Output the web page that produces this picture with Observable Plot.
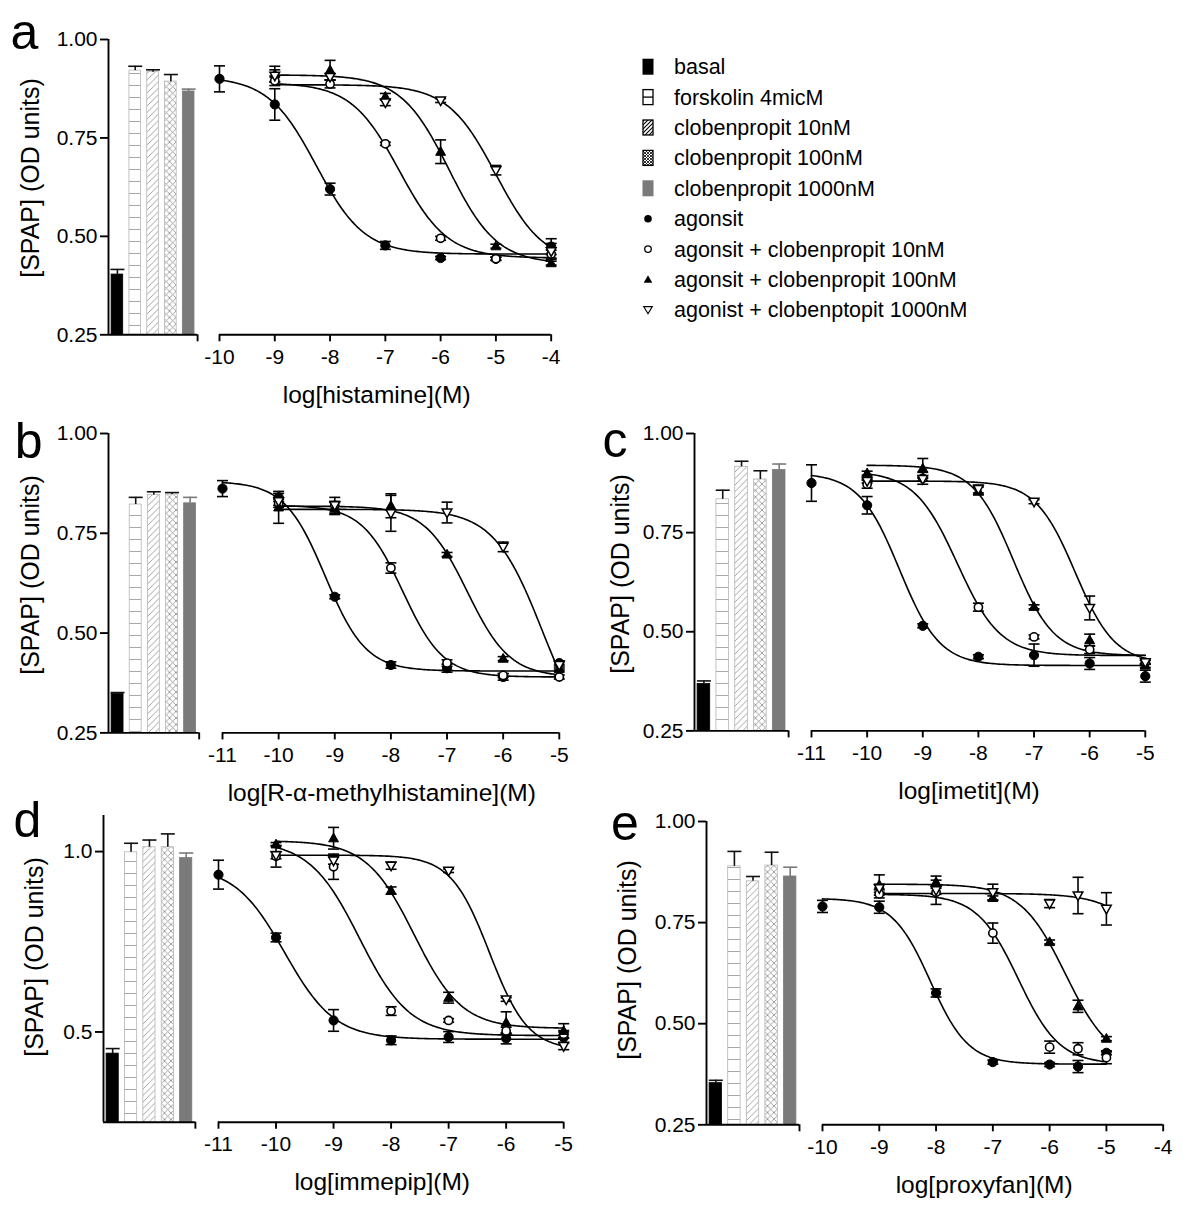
<!DOCTYPE html>
<html><head><meta charset="utf-8">
<script src="https://cdn.jsdelivr.net/npm/d3@7"></script>
<script src="https://cdn.jsdelivr.net/npm/@observablehq/plot@0.6"></script>
<style>
body{margin:0;background:#fff;}
#root{position:relative;width:1200px;height:1225px;overflow:hidden;background:#fff;}
</style></head><body>
<div id="root"></div>
<script>
// ---------------- DATA ----------------
const barLabels = ["basal", "forskolin 4micM", "clobenpropit 10nM", "clobenpropit 100nM", "clobenpropit 1000nM"];
const seriesLabels = ["agonsit", "agonsit + clobenpropit 10nM", "agonsit + clobenpropit 100nM", "agonist + clobenptopit 1000nM"];
const yAxisTitle = "[SPAP] (OD units)";

// panel a: histamine
const aTitle = "log[histamine](M)";
const aDoses = [-10, -9, -8, -7, -6, -5, -4];
const aAgonist     = [0.900, 0.835, 0.620, 0.477, 0.445, 0.443, 0.474];
const aAgonistErr  = [0.033, 0.040, 0.015, 0.010, 0.004, 0.004, 0.020];
const aClob10      = [null, 0.895, 0.887, 0.735, 0.495, 0.443, 0.455];
const aClob10Err   = [null, 0.012, 0.010, 0.004, 0.005, 0.004, 0.010];
const aClob100     = [null, 0.912, 0.922, 0.855, 0.715, 0.475, 0.432];
const aClob100Err  = [null, 0.020, 0.025, 0.008, 0.030, 0.005, 0.005];
const aClob1000    = [null, 0.908, 0.905, 0.840, 0.845, 0.668, 0.462];
const aClob1000Err = [null, 0.015, 0.008, 0.008, 0.005, 0.012, 0.020];
const aBars   = [0.403, 0.921, 0.917, 0.893, 0.868];
const aBarErr = [0.013, 0.011, 0.006, 0.018, 0.006];
const aFitTop    = [0.905, 0.890, 0.910, 0.885];
const aFitBottom = [0.455, 0.445, 0.430, 0.430];
const aFitLogIC50 = [-8.25, -6.75, -5.85, -5.00];
const aFitHill   = [1.0, 1.0, 1.0, 1.0];
const aFitFrom   = [-10, -9, -9, -9];
const aXTicks = [-10, -9, -8, -7, -6, -5, -4];
const aYTicks = [0.25, 0.50, 0.75, 1.00];
const aYDomain = [0.25, 1.00];

// panel b: R-alpha-methylhistamine
const bTitle = "log[R-\u03b1-methylhistamine](M)";
const bDoses = [-11, -10, -9, -8, -7, -6, -5];
const bAgonist     = [0.862, 0.840, 0.591, 0.420, 0.412, 0.390, 0.425];
const bAgonistErr  = [0.020, 0.010, 0.005, 0.008, 0.010, 0.008, 0.005];
const bClob10      = [null, 0.825, 0.820, 0.663, 0.425, 0.394, 0.390];
const bClob10Err   = [null, 0.010, 0.020, 0.013, 0.008, 0.005, 0.005];
const bClob100     = [null, 0.815, 0.812, 0.819, 0.697, 0.436, 0.410];
const bClob100Err  = [null, 0.040, 0.015, 0.030, 0.005, 0.005, 0.005];
const bClob1000    = [null, 0.830, 0.820, 0.800, 0.802, 0.716, 0.420];
const bClob1000Err = [null, 0.010, 0.010, 0.045, 0.026, 0.012, 0.010];
const bBars   = [0.348, 0.822, 0.846, 0.847, 0.825];
const bBarErr = [0.003, 0.018, 0.008, 0.005, 0.015];
const bFitTop    = [0.880, 0.820, 0.818, 0.810];
const bFitBottom = [0.405, 0.390, 0.390, 0.200];
const bFitLogIC50 = [-9.17, -7.79, -6.64, -5.30];
const bFitHill   = [1.2, 1.2, 1.15, 1.0];
const bFitFrom   = [-11, -10, -10, -10];
const bXTicks = [-11, -10, -9, -8, -7, -6, -5];
const bYTicks = [0.25, 0.50, 0.75, 1.00];
const bYDomain = [0.25, 1.00];

// panel c: imetit
const cTitle = "log[imetit](M)";
const cDoses = [-11, -10, -9, -8, -7, -6, -5];
const cAgonist     = [0.875, 0.819, 0.515, 0.437, 0.441, 0.420, 0.388];
const cAgonistErr  = [0.046, 0.022, 0.005, 0.005, 0.028, 0.015, 0.015];
const cClob10      = [null, 0.872, 0.887, 0.562, 0.487, 0.455, 0.423];
const cClob10Err   = [null, 0.010, 0.015, 0.010, 0.005, 0.010, 0.005];
const cClob100     = [null, 0.900, 0.912, 0.855, 0.563, 0.479, 0.415];
const cClob100Err  = [null, 0.005, 0.025, 0.010, 0.005, 0.015, 0.005];
const cClob1000    = [null, 0.880, 0.885, 0.860, 0.828, 0.560, 0.423];
const cClob1000Err = [null, 0.005, 0.005, 0.010, 0.005, 0.030, 0.005];
const cBars   = [0.368, 0.834, 0.916, 0.884, 0.908];
const cBarErr = [0.008, 0.023, 0.014, 0.022, 0.015];
const cFitTop    = [0.900, 0.905, 0.920, 0.880];
const cFitBottom = [0.415, 0.440, 0.440, 0.420];
const cFitLogIC50 = [-9.42, -8.38, -7.37, -6.26];
const cFitHill   = [1.2, 1.13, 1.2, 1.22];
const cFitFrom   = [-11, -10, -10, -10];
const cXTicks = [-11, -10, -9, -8, -7, -6, -5];
const cYTicks = [0.25, 0.50, 0.75, 1.00];
const cYDomain = [0.25, 1.00];

// panel d: immepip
const dTitle = "log[immepip](M)";
const dDoses = [-11, -10, -9, -8, -7, -6, -5];
const dAgonist     = [0.936, 0.762, 0.532, 0.477, 0.486, 0.482, 0.485];
const dAgonistErr  = [0.040, 0.012, 0.030, 0.012, 0.015, 0.015, 0.015];
const dClob10      = [null, 0.987, 0.958, 0.558, 0.532, 0.503, 0.494];
const dClob10Err   = [null, 0.030, 0.035, 0.012, 0.005, 0.010, 0.010];
const dClob100     = [null, 1.020, 1.037, 0.892, 0.595, 0.526, 0.503];
const dClob100Err  = [null, 0.005, 0.030, 0.010, 0.015, 0.030, 0.020];
const dClob1000    = [null, 0.990, 0.975, 0.961, 0.947, 0.590, 0.461];
const dClob1000Err = [null, 0.010, 0.010, 0.010, 0.005, 0.005, 0.010];
const dBars   = [0.440, 0.998, 1.012, 1.012, 0.982];
const dBarErr = [0.014, 0.025, 0.020, 0.037, 0.014];
const dFitTop    = [0.960, 1.030, 1.030, 0.990];
const dFitBottom = [0.480, 0.490, 0.510, 0.450];
const dFitLogIC50 = [-9.85, -8.55, -7.60, -6.29];
const dFitHill   = [1.0, 1.0, 1.05, 1.3];
const dFitFrom   = [-11, -10, -10, -10];
const dXTicks = [-11, -10, -9, -8, -7, -6, -5];
const dYTicks = [0.5, 1.0];
const dYDomain = [0.25, 1.10];

// panel e: proxyfan
const eTitle = "log[proxyfan](M)";
const eDoses = [-10, -9, -8, -7, -6, -5.5, -5];
const eAgonist     = [0.790, 0.788, 0.576, 0.405, 0.399, 0.394, 0.428];
const eAgonistErr  = [0.015, 0.015, 0.010, 0.005, 0.005, 0.015, 0.005];
const eClob10      = [null, 0.821, 0.825, 0.724, 0.442, 0.438, 0.416];
const eClob10Err   = [null, 0.010, 0.030, 0.025, 0.015, 0.015, 0.015];
const eClob100     = [null, 0.843, 0.850, 0.811, 0.702, 0.543, 0.463];
const eClob100Err  = [null, 0.025, 0.015, 0.005, 0.005, 0.015, 0.005];
const eClob1000    = [null, 0.835, 0.830, 0.825, 0.797, 0.817, 0.784];
const eClob1000Err = [null, 0.010, 0.010, 0.020, 0.010, 0.045, 0.040];
const eBars   = [0.353, 0.889, 0.852, 0.891, 0.864];
const eBarErr = [0.007, 0.037, 0.012, 0.033, 0.023];
const eFitTop    = [0.810, 0.820, 0.845, 0.822];
const eFitBottom = [0.400, 0.400, 0.400, 0.400];
const eFitLogIC50 = [-8.10, -6.55, -5.72, -3.90];
const eFitHill   = [1.3, 1.2, 1.1, 1.0];
const eFitFrom   = [-10, -9, -9, -9];
const eXTicks = [-10, -9, -8, -7, -6, -5, -4];
const eYTicks = [0.25, 0.50, 0.75, 1.00];
const eYDomain = [0.25, 1.00];

// ---------------- LAYOUT (pixels) ----------------
const layout = {
  a: {yAxisX:108.0, barEnd:197.1, cx0:219.3, cx1:551.0, yTop:39.0,  yBot:334.3,  letter:[24.5, 49],  ytitle:[30.5, 178]},
  b: {yAxisX:108.3, barEnd:199.0, cx0:221.9, cx1:558.7, yTop:433.3, yBot:732.7,  letter:[28.7, 458], ytitle:[30.5, 575]},
  c: {yAxisX:694.3, barEnd:788.4, cx0:810.6, cx1:1144.4, yTop:433.3, yBot:730.7, letter:[615, 457],  ytitle:[620.5, 574]},
  d: {yAxisX:103.3, barEnd:195.2, cx0:218.1, cx1:563.3, yTop:815.0, yBot:1121.7, letter:[27.5, 837], ytitle:[34.5, 957]},
  e: {yAxisX:705.9, barEnd:798.9, cx0:822.3, cx1:1163.0, yTop:821.0, yBot:1124.3, letter:[625, 840], ytitle:[628, 960]}
};

const panels = [
  {key:"a", title:aTitle, doses:aDoses, series:[aAgonist,aClob10,aClob100,aClob1000], errs:[aAgonistErr,aClob10Err,aClob100Err,aClob1000Err], bars:aBars, barErr:aBarErr, fit:[aFitTop,aFitBottom,aFitLogIC50,aFitHill,aFitFrom], xTicks:aXTicks, yTicks:aYTicks, yDomain:aYDomain, yFormat:".2f"},
  {key:"b", title:bTitle, doses:bDoses, series:[bAgonist,bClob10,bClob100,bClob1000], errs:[bAgonistErr,bClob10Err,bClob100Err,bClob1000Err], bars:bBars, barErr:bBarErr, fit:[bFitTop,bFitBottom,bFitLogIC50,bFitHill,bFitFrom], xTicks:bXTicks, yTicks:bYTicks, yDomain:bYDomain, yFormat:".2f"},
  {key:"c", title:cTitle, doses:cDoses, series:[cAgonist,cClob10,cClob100,cClob1000], errs:[cAgonistErr,cClob10Err,cClob100Err,cClob1000Err], bars:cBars, barErr:cBarErr, fit:[cFitTop,cFitBottom,cFitLogIC50,cFitHill,cFitFrom], xTicks:cXTicks, yTicks:cYTicks, yDomain:cYDomain, yFormat:".2f"},
  {key:"d", title:dTitle, doses:dDoses, series:[dAgonist,dClob10,dClob100,dClob1000], errs:[dAgonistErr,dClob10Err,dClob100Err,dClob1000Err], bars:dBars, barErr:dBarErr, fit:[dFitTop,dFitBottom,dFitLogIC50,dFitHill,dFitFrom], xTicks:dXTicks, yTicks:dYTicks, yDomain:dYDomain, yFormat:".1f"},
  {key:"e", title:eTitle, doses:eDoses, series:[eAgonist,eClob10,eClob100,eClob1000], errs:[eAgonistErr,eClob10Err,eClob100Err,eClob1000Err], bars:eBars, barErr:eBarErr, fit:[eFitTop,eFitBottom,eFitLogIC50,eFitHill,eFitFrom], xTicks:eXTicks, yTicks:eYTicks, yDomain:eYDomain, yFormat:".2f"}
];

// ---------------- DRAWING ----------------
const FONT = '"Liberation Sans", Arial, Helvetica, sans-serif';
const root = document.getElementById("root");
const MT = 14, MB = 44, MLB = 62, MRB = 12, MLC = 14, MRC = 16;
const AXW = 1.9;
const TICKFS = 21;

const capBar = {draw(ctx){ ctx.moveTo(-7,0); ctx.lineTo(7,0); }};
const capPt  = {draw(ctx){ ctx.moveTo(-5.5,0); ctx.lineTo(5.5,0); }};
const triUp = {draw(ctx,size){ const r=Math.sqrt(size/Math.PI); ctx.moveTo(0,-r*1.15); ctx.lineTo(r*1.1,r*0.8); ctx.lineTo(-r*1.1,r*0.8); ctx.closePath(); }};
const triDown = {draw(ctx,size){ const r=Math.sqrt(size/Math.PI); ctx.moveTo(0,r*1.15); ctx.lineTo(r*1.1,-r*0.8); ctx.lineTo(-r*1.1,-r*0.8); ctx.closePath(); }};

const seriesStyle = [
  {symbol:"circle", fill:"black", stroke:"black", r:4.6, sw:1},
  {symbol:"circle", fill:"white", stroke:"black", r:4.1, sw:1.6},
  {symbol:triUp,   fill:"black", stroke:"black", r:4.5, sw:1},
  {symbol:triDown, fill:"white", stroke:"black", r:4.4, sw:1.5}
];
const barFills   = ["#000", "url(#pHoriz)", "url(#pDiag)", "url(#pCross)", "#7a7a7a"];
const barStrokes = ["#000", "#b5b5b5", "#b5b5b5", "#b5b5b5", "#7a7a7a"];

function place(svg, left, top) {
  svg.style.position = "absolute";
  svg.style.left = left + "px";
  svg.style.top = top + "px";
  svg.style.overflow = "visible";
  root.appendChild(svg);
}

function logistic(top, bottom, ic50, hill, x) {
  return bottom + (top - bottom) / (1 + Math.pow(10, (x - ic50) * hill));
}

function drawPanel(P) {
  const L = layout[P.key];
  const yMin = P.yDomain[0];
  const H = MT + (L.yBot - L.yTop) + MB;
  const fmt = d3.format(P.yFormat);

  // ---- bar section ----
  const barRows = P.bars.map((v, i) => ({i, v, e: P.barErr[i]}));
  const barMarks = barRows.map((d, i) => Plot.rectY([d], {
    x1: r => r.i, x2: r => r.i + 1, y1: yMin, y2: "v",
    insetLeft: 3.1, insetRight: 3.1,
    fill: barFills[i], stroke: barStrokes[i], strokeWidth: 0.8
  }));
  const errDark = barRows.filter(d => d.i < 4);
  const errGray = barRows.filter(d => d.i === 4);
  const barPlot = Plot.plot({
    width: MLB + (L.barEnd - L.yAxisX) + MRB, height: H,
    marginLeft: MLB, marginRight: MRB, marginTop: MT, marginBottom: MB,
    x: {domain: [0, 5]},
    y: {domain: P.yDomain},
    style: {fontFamily: FONT, fontSize: TICKFS + "px", background: "transparent", color: "black"},
    marks: [
      ...barMarks,
      Plot.ruleX(errDark, {x: d => d.i + 0.5, y1: "v", y2: d => d.v + d.e, stroke: "#111", strokeWidth: 1.6}),
      Plot.dot(errDark, {x: d => d.i + 0.5, y: d => d.v + d.e, symbol: capBar, r: 3, fill: "none", stroke: "#111", strokeWidth: 1.6}),
      Plot.ruleX(errGray, {x: d => d.i + 0.5, y1: "v", y2: d => d.v + d.e, stroke: "#7a7a7a", strokeWidth: 1.6}),
      Plot.dot(errGray, {x: d => d.i + 0.5, y: d => d.v + d.e, symbol: capBar, r: 3, fill: "none", stroke: "#7a7a7a", strokeWidth: 1.6}),
      Plot.ruleX([0], {stroke: "black", strokeWidth: AXW}),
      Plot.ruleY([yMin], {stroke: "black", strokeWidth: AXW}),
      Plot.axisY({ticks: P.yTicks, tickFormat: fmt, tickSize: 8, tickPadding: 3, label: null, fontSize: TICKFS, strokeWidth: AXW}),
      Plot.axisX({ticks: [5], tickSize: 7, tickFormat: () => "", label: null, strokeWidth: AXW})
    ]
  });
  place(barPlot, L.yAxisX - MLB, L.yTop - MT);

  // ---- curve section ----
  const xd = [P.xTicks[0], P.xTicks[P.xTicks.length - 1]];
  const xEnd = P.doses[P.doses.length - 1];
  const [fTop, fBot, fIC, fHill, fFrom] = P.fit;
  const fitPts = [];
  for (let s = 0; s < 4; s++) {
    const n = 180;
    for (let k = 0; k <= n; k++) {
      const x = fFrom[s] + (xEnd - fFrom[s]) * k / n;
      fitPts.push({s, x, y: logistic(fTop[s], fBot[s], fIC[s], fHill[s], x)});
    }
  }
  const errMarks = [], dotMarks = [];
  for (let s = 0; s < 4; s++) {
    const rows = P.doses.map((x, i) => ({x, v: P.series[s][i], e: P.errs[s][i]})).filter(d => d.v != null);
    const er = rows.filter(d => d.e > 0);
    errMarks.push(
      Plot.ruleX(er, {x: "x", y1: d => d.v - d.e, y2: d => d.v + d.e, stroke: "black", strokeWidth: 1.6}),
      Plot.dot(er, {x: "x", y: d => d.v + d.e, symbol: capPt, r: 3, fill: "none", stroke: "black", strokeWidth: 1.6}),
      Plot.dot(er, {x: "x", y: d => d.v - d.e, symbol: capPt, r: 3, fill: "none", stroke: "black", strokeWidth: 1.6})
    );
    const st = seriesStyle[s];
    dotMarks.push(Plot.dot(rows, {x: "x", y: "v", symbol: st.symbol, r: st.r, fill: st.fill, stroke: st.stroke, strokeWidth: st.sw}));
  }
  const curvePlot = Plot.plot({
    width: MLC + (L.cx1 - L.cx0) + MRC, height: H,
    marginLeft: MLC, marginRight: MRC, marginTop: MT, marginBottom: MB,
    x: {domain: xd},
    y: {domain: P.yDomain, axis: null},
    style: {fontFamily: FONT, fontSize: TICKFS + "px", background: "transparent", color: "black"},
    marks: [
      Plot.ruleY([yMin], {stroke: "black", strokeWidth: AXW}),
      Plot.axisX({ticks: P.xTicks, tickFormat: d => String(d), tickSize: 7, tickPadding: 7, label: null, fontSize: TICKFS, strokeWidth: AXW}),
      Plot.line(fitPts, {x: "x", y: "y", z: "s", stroke: "black", strokeWidth: 1.6}),
      ...errMarks,
      ...dotMarks
    ]
  });
  place(curvePlot, L.cx0 - MLC, L.yTop - MT);
}

panels.forEach(drawPanel);

// ---------------- annotations & legend (overlay svg) ----------------
const NS = "http://www.w3.org/2000/svg";
const ov = document.createElementNS(NS, "svg");
ov.setAttribute("width", 1200); ov.setAttribute("height", 1225);
ov.style.position = "absolute"; ov.style.left = "0px"; ov.style.top = "0px";
ov.style.fontFamily = FONT;
ov.innerHTML = `
<defs>
  <pattern id="pHoriz" patternUnits="userSpaceOnUse" width="12" height="12">
    <rect width="12" height="12" fill="#fff"/>
    <line x1="0" y1="0.5" x2="12" y2="0.5" stroke="#a8a8a8" stroke-width="1"/>
  </pattern>
  <pattern id="pDiag" patternUnits="userSpaceOnUse" width="6.5" height="6.5">
    <rect width="6.5" height="6.5" fill="#fff"/>
    <path d="M-1,1 L1,-1 M0,6.5 L6.5,0 M5.5,7.5 L7.5,5.5" stroke="#999" stroke-width="0.9"/>
  </pattern>
  <pattern id="pCross" patternUnits="userSpaceOnUse" width="6.5" height="6.5">
    <rect width="6.5" height="6.5" fill="#fff"/>
    <path d="M-1,1 L1,-1 M0,6.5 L6.5,0 M5.5,7.5 L7.5,5.5 M-1,5.5 L1,7.5 M0,0 L6.5,6.5 M5.5,-1 L7.5,1" stroke="#999" stroke-width="0.9"/>
  </pattern>
  <pattern id="lDiag" patternUnits="userSpaceOnUse" width="4" height="4">
    <rect width="4" height="4" fill="#fff"/>
    <path d="M-1,1 L1,-1 M0,4 L4,0 M3,5 L5,3" stroke="#000" stroke-width="1.1"/>
  </pattern>
  <pattern id="lCross" patternUnits="userSpaceOnUse" width="3" height="3">
    <rect width="3" height="3" fill="#fff"/>
    <path d="M-1,1 L1,-1 M0,3 L3,0 M2,4 L4,2 M-1,2 L1,4 M0,0 L3,3 M2,-1 L4,1" stroke="#000" stroke-width="0.8"/>
  </pattern>
</defs>`;
root.appendChild(ov);

function addText(str, x, y, size, opts = {}) {
  const t = document.createElementNS(NS, "text");
  t.textContent = str;
  t.setAttribute("x", x); t.setAttribute("y", y);
  t.setAttribute("font-size", size);
  t.setAttribute("fill", "#000");
  if (opts.anchor) t.setAttribute("text-anchor", opts.anchor);
  if (opts.transform) t.setAttribute("transform", opts.transform);
  if (opts.dy) t.setAttribute("dy", opts.dy);
  ov.appendChild(t);
  return t;
}

panels.forEach(P => {
  const L = layout[P.key];
  addText(P.key, L.letter[0], L.letter[1], 50, {anchor: "middle"});
  const tx = (L.cx0 + L.cx1) / 2 - 8.5;
  const ty = L.yBot + 60.7;
  addText(P.title, tx, ty, 24.5, {anchor: "middle", dy: "0.33em"});
  addText(yAxisTitle, 0, 0, 25, {anchor: "middle", dy: "0.33em", transform: `translate(${L.ytitle[0]},${L.ytitle[1]}) rotate(-90)`});
});

// legend
const lgX = 648, lgY0 = 66.7, lgStep = 30.4, lgTextX = 674;
const legendItems = barLabels.concat(seriesLabels);
let lg = "";
legendItems.forEach((lab, i) => {
  const cy = lgY0 + i * lgStep;
  if (i === 0) lg += `<rect x="${lgX-5.5}" y="${cy-8}" width="11" height="16" fill="#000"/>`;
  if (i === 1) lg += `<rect x="${lgX-5}" y="${cy-7.5}" width="10" height="15" fill="#fff" stroke="#000" stroke-width="1.3"/><line x1="${lgX-5}" y1="${cy}" x2="${lgX+5}" y2="${cy}" stroke="#000" stroke-width="1.3"/>`;
  if (i === 2) lg += `<rect x="${lgX-5}" y="${cy-7.5}" width="10" height="15" fill="url(#lDiag)" stroke="#000" stroke-width="1.3"/>`;
  if (i === 3) lg += `<rect x="${lgX-5}" y="${cy-7.5}" width="10" height="15" fill="url(#lCross)" stroke="#000" stroke-width="1.3"/>`;
  if (i === 4) lg += `<rect x="${lgX-5.5}" y="${cy-8}" width="11" height="16" fill="#7a7a7a"/>`;
  if (i === 5) lg += `<circle cx="${lgX}" cy="${cy}" r="3.8" fill="#000"/>`;
  if (i === 6) lg += `<circle cx="${lgX}" cy="${cy}" r="3.3" fill="#fff" stroke="#000" stroke-width="1.3"/>`;
  if (i === 7) lg += `<path d="M${lgX},${cy-4.2} L${lgX+4.3},${cy+3.2} L${lgX-4.3},${cy+3.2} Z" fill="#000"/>`;
  if (i === 8) lg += `<path d="M${lgX},${cy+3.8} L${lgX+4.2},${cy-3.2} L${lgX-4.2},${cy-3.2} Z" fill="#fff" stroke="#000" stroke-width="1.2"/>`;
});
const g = document.createElementNS(NS, "g");
g.innerHTML = lg;
ov.appendChild(g);
legendItems.forEach((lab, i) => addText(lab, lgTextX, lgY0 + i * lgStep, 21.5, {dy: "0.35em"}));
</script>
</body></html>
